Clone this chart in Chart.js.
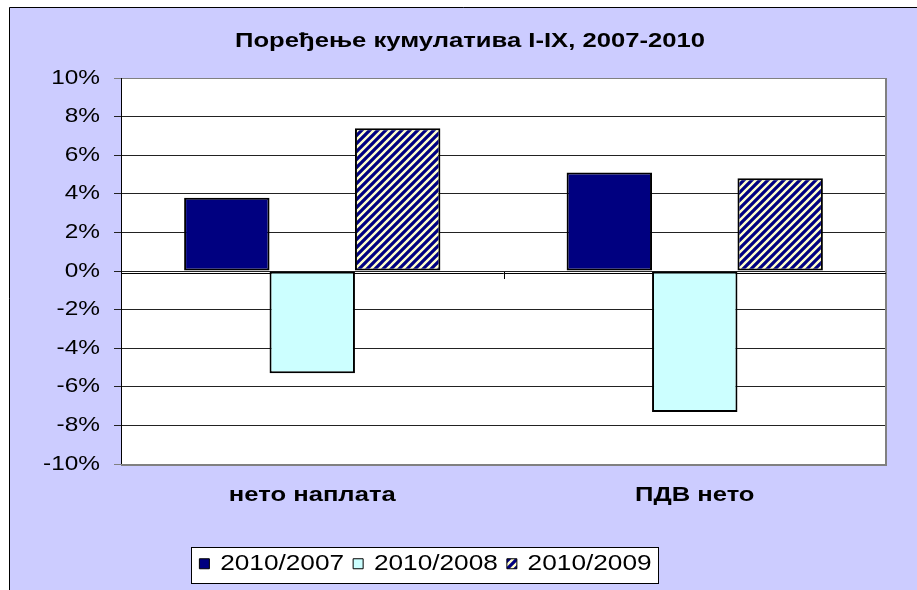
<!DOCTYPE html>
<html><head><meta charset="utf-8">
<script src="https://cdn.jsdelivr.net/npm/chart.js@4.4.1/dist/chart.umd.min.js"></script>
<style>html,body{margin:0;padding:0;background:#fff;overflow:hidden}canvas{display:block}</style>
</head><body>
<canvas id="c" width="917" height="590"></canvas>
<script>
// ---- data ----
const categories = ['нето наплата', 'ПДВ нето'];
const seriesNames = ['2010/2007', '2010/2008', '2010/2009'];
const s2010_2007 = [3.8, 5.1];
const s2010_2008 = [-5.3, -7.3];
const s2010_2009 = [7.4, 4.8];
const yMin = -10, yMax = 10, yStep = 2;
const titleText = 'Поређење кумулатива I-IX, 2007-2010';

// ---- styles ----
const FONT = "'Liberation Sans', Arial, sans-serif";
const NAVY = '#000080', CYAN = '#CCFFFF', STRIPE = '#FFFFCC', LAV = '#CCCCFF';

// horizontally stretched text (reference text is widened)
const SX = 1.22;
const P = CanvasRenderingContext2D.prototype;
const _fill = P.fillText, _measure = P.measureText;
P.fillText = function (t, x, y) {
  this.save(); this.translate(x, y); this.scale(SX, 1); _fill.call(this, t, 0, 0); this.restore();
};
P.measureText = function (t) {
  const m = _measure.call(this, t);
  return {
    width: m.width * SX,
    actualBoundingBoxAscent: m.actualBoundingBoxAscent,
    actualBoundingBoxDescent: m.actualBoundingBoxDescent,
    actualBoundingBoxLeft: m.actualBoundingBoxLeft * SX,
    actualBoundingBoxRight: m.actualBoundingBoxRight * SX,
    fontBoundingBoxAscent: m.fontBoundingBoxAscent,
    fontBoundingBoxDescent: m.fontBoundingBoxDescent
  };
};

const canvas = document.getElementById('c');
const mainCtx = canvas.getContext('2d');
function makeHatch() {
  const t = document.createElement('canvas'); t.width = 8; t.height = 8;
  const g = t.getContext('2d');
  g.fillStyle = NAVY; g.fillRect(0, 0, 8, 8);
  g.strokeStyle = STRIPE; g.lineWidth = 2.4;
  g.beginPath();
  g.moveTo(-2, 10); g.lineTo(10, -2);
  g.moveTo(-2, 2); g.lineTo(2, -2);
  g.moveTo(6, 10); g.lineTo(10, 6);
  g.stroke();
  return mainCtx.createPattern(t, 'repeat');
}
const hatch = makeHatch();

const TITLE_SHIFT = 12;
const LEGEND_SHIFT = -32.5;

const framePlugin = {
  id: 'frame',
  afterLayout(chart) {
    const lg = chart.legend;
    if (lg) { lg.left += LEGEND_SHIFT; lg.right += LEGEND_SHIFT; }
    const tb = chart.titleBlock;
    if (tb) { tb.left += TITLE_SHIFT; tb.right += TITLE_SHIFT; }
  },
  beforeDraw(chart) {
    const {ctx, width, height, chartArea: a} = chart;
    ctx.save();
    ctx.fillStyle = '#fff'; ctx.fillRect(0, 0, width, height);
    ctx.fillStyle = LAV; ctx.fillRect(9, 7, width - 9, height - 7);
    ctx.strokeStyle = '#000'; ctx.lineWidth = 1;
    ctx.beginPath(); ctx.moveTo(9.5, height); ctx.lineTo(9.5, 7.5); ctx.lineTo(width, 7.5); ctx.stroke();
    ctx.fillStyle = '#fff'; ctx.fillRect(a.left, a.top, a.right - a.left, a.bottom - a.top);
    const lg = chart.legend;
    if (lg && lg.legendHitBoxes && lg.legendHitBoxes.length) {
      const hb = lg.legendHitBoxes;
      const l = Math.min(...hb.map(h => h.left)) - 8;
      const r = Math.max(...hb.map(h => h.left + h.width)) + 7;
      const t = Math.min(...hb.map(h => h.top)) - 6;
      const b = Math.max(...hb.map(h => h.top + h.height)) + 8;
      ctx.fillStyle = '#fff';
      ctx.fillRect(Math.round(l), Math.round(t), Math.round(r - l), Math.round(b - t));
      ctx.strokeStyle = '#000'; ctx.lineWidth = 1;
      ctx.strokeRect(Math.round(l) + 0.5, Math.round(t) + 0.5, Math.round(r - l), Math.round(b - t));
    }
    ctx.restore();
  },
  beforeDatasetsDraw(chart) {
    const {ctx, chartArea: a, scales: {y}} = chart;
    ctx.save();
    ctx.strokeStyle = '#808080'; ctx.lineWidth = 2;
    ctx.beginPath();
    ctx.moveTo(a.right, a.top); ctx.lineTo(a.right, a.bottom + 1);
    ctx.moveTo(a.left, a.bottom + 1); ctx.lineTo(a.right + 1, a.bottom + 1);
    ctx.stroke();
    const y0 = Math.round(y.getPixelForValue(0)) + 2.5;
    ctx.strokeStyle = '#000'; ctx.lineWidth = 1;
    ctx.beginPath(); ctx.moveTo(a.left, y0); ctx.lineTo(a.right, y0); ctx.stroke();
    ctx.restore();
  },
  afterDatasetsDraw(chart) {
    const {ctx, scales: {x, y}} = chart;
    const xm = Math.round(x.getPixelForValue(0.5)) + 0.5;
    const y0 = Math.round(y.getPixelForValue(0)) + 1;
    ctx.save();
    ctx.strokeStyle = '#000'; ctx.lineWidth = 1;
    ctx.beginPath(); ctx.moveTo(xm, y0); ctx.lineTo(xm, y0 + 7); ctx.stroke();
    ctx.restore();
  }
};

new Chart(canvas, {
  type: 'bar',
  data: {
    labels: categories,
    datasets: [
      {label: seriesNames[0], data: s2010_2007, backgroundColor: NAVY},
      {label: seriesNames[1], data: s2010_2008, backgroundColor: CYAN},
      {label: seriesNames[2], data: s2010_2009, backgroundColor: hatch}
    ]
  },
  options: {
    responsive: false,
    animation: false,
    devicePixelRatio: 1,
    layout: {padding: {left: 30, right: 31, top: 7, bottom: 5.5}},
    datasets: {
      bar: {
        categoryPercentage: 0.67, barPercentage: 1.0,
        borderColor: '#000', borderWidth: 2, borderSkipped: false
      }
    },
    scales: {
      x: {
        type: 'category',
        grid: {display: false, drawTicks: false},
        border: {display: false},
        ticks: {color: '#000', font: {family: FONT, size: 21, weight: 'bold'}, padding: 18.4, maxRotation: 0},
        afterFit: s => { s.height = 80; }
      },
      y: {
        min: yMin, max: yMax,
        ticks: {stepSize: yStep, callback: v => v + '%', color: '#000', font: {family: FONT, size: 20}, padding: 14},
        grid: {
          color: c => (c.tick && Math.abs(c.tick.value) === yMax) ? '#808080' : '#222',
          lineWidth: 1, tickLength: 7, drawTicks: true
        },
        border: {display: true, color: '#000', width: 1},
        afterFit: s => { s.width = 91; }
      }
    },
    plugins: {
      title: {
        display: true, text: titleText, color: '#000',
        font: {family: FONT, size: 21, weight: 'bold'},
        padding: {top: 21.4, bottom: 24.4}
      },
      legend: {
        position: 'bottom',
        labels: {
          boxWidth: 10, boxHeight: 10, padding: 9, color: '#000',
          font: {family: FONT, size: 21.5},
          generateLabels(chart) {
            return Chart.defaults.plugins.legend.labels.generateLabels(chart)
              .map(l => Object.assign(l, {lineWidth: 1, strokeStyle: '#000'}));
          }
        }
      },
      tooltip: {enabled: false}
    }
  },
  plugins: [framePlugin]
});
</script>
</body></html>
